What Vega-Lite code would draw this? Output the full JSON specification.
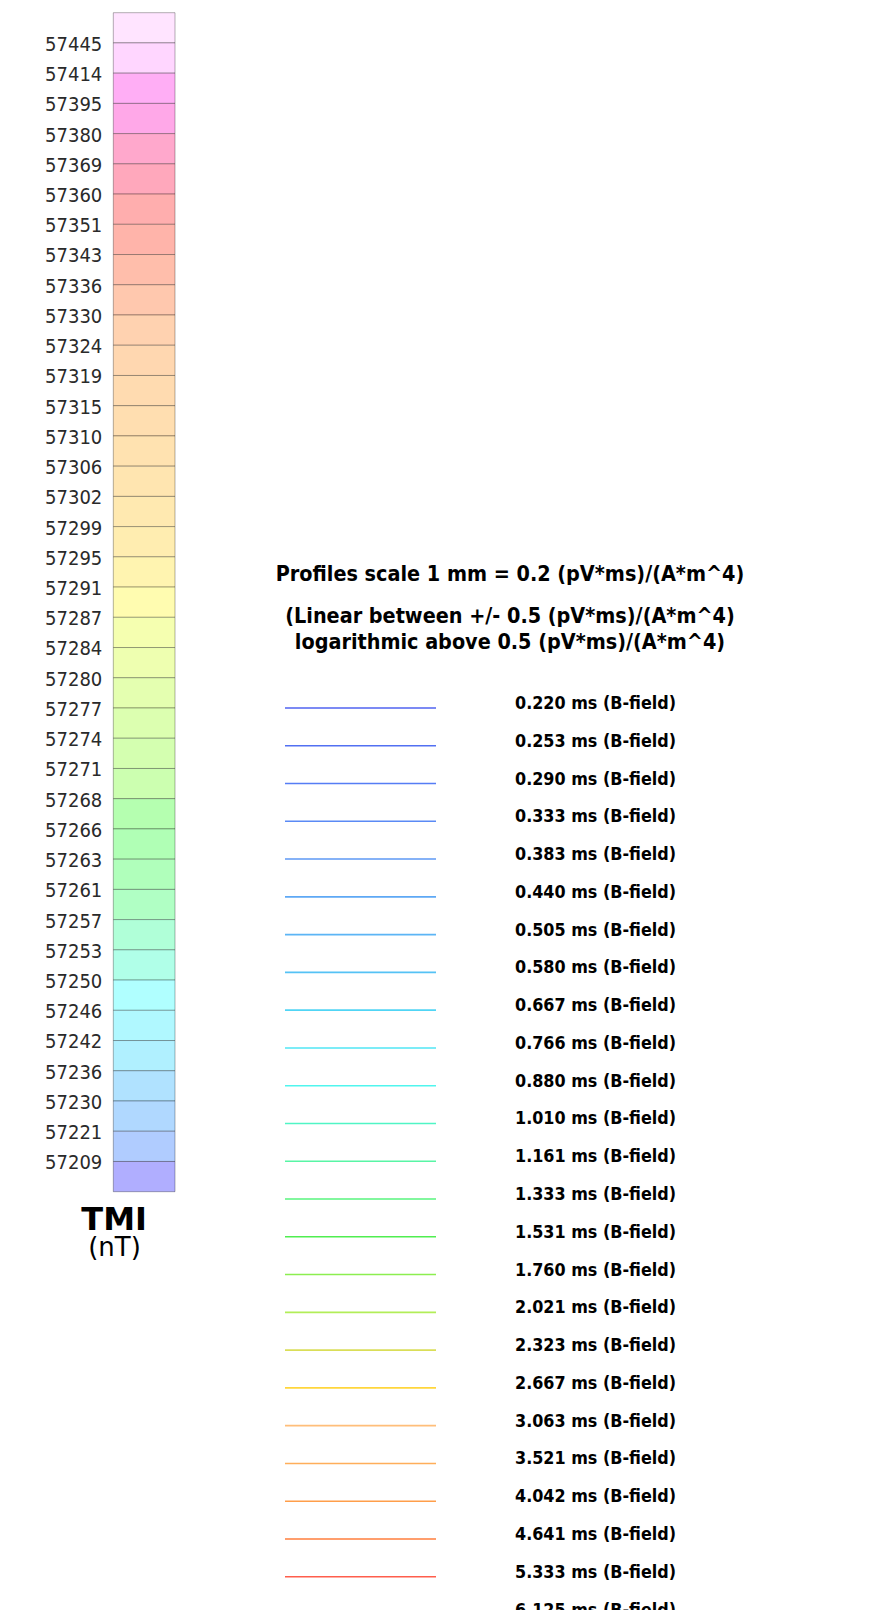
{
  "$schema": "https://vega.github.io/schema/vega-lite/v6.json",
  "width": 882,
  "height": 1610,
  "autosize": {"type": "none"},
  "padding": 0,
  "background": "white",
  "config": {"view": {"stroke": null}},
  "title": {
    "text": "Profiles scale 1 mm = 0.2 (pV*ms)/(A*m^4)",
    "subtitle": ["(Linear between +/- 0.5 (pV*ms)/(A*m^4)", "logarithmic above 0.5 (pV*ms)/(A*m^4)"],
    "anchor": "middle",
    "frame": "group",
    "dx": 69,
    "offset": -653,
    "font": "DejaVu Sans Condensed, DejaVu Sans",
    "fontSize": 21.4,
    "fontWeight": "bold",
    "color": "#000000",
    "subtitleFont": "DejaVu Sans Condensed, DejaVu Sans",
    "subtitleFontSize": 21.4,
    "subtitleFontWeight": "bold",
    "subtitleColor": "#000000",
    "subtitlePadding": 20,
    "subtitleLineHeight": 26
  },
  "layer": [
    {
      "data": {"values": [
        {"variable": "TMI", "lo": "57445"},
        {"variable": "TMI", "lo": "57414"},
        {"variable": "TMI", "lo": "57395"},
        {"variable": "TMI", "lo": "57380"},
        {"variable": "TMI", "lo": "57369"},
        {"variable": "TMI", "lo": "57360"},
        {"variable": "TMI", "lo": "57351"},
        {"variable": "TMI", "lo": "57343"},
        {"variable": "TMI", "lo": "57336"},
        {"variable": "TMI", "lo": "57330"},
        {"variable": "TMI", "lo": "57324"},
        {"variable": "TMI", "lo": "57319"},
        {"variable": "TMI", "lo": "57315"},
        {"variable": "TMI", "lo": "57310"},
        {"variable": "TMI", "lo": "57306"},
        {"variable": "TMI", "lo": "57302"},
        {"variable": "TMI", "lo": "57299"},
        {"variable": "TMI", "lo": "57295"},
        {"variable": "TMI", "lo": "57291"},
        {"variable": "TMI", "lo": "57287"},
        {"variable": "TMI", "lo": "57284"},
        {"variable": "TMI", "lo": "57280"},
        {"variable": "TMI", "lo": "57277"},
        {"variable": "TMI", "lo": "57274"},
        {"variable": "TMI", "lo": "57271"},
        {"variable": "TMI", "lo": "57268"},
        {"variable": "TMI", "lo": "57266"},
        {"variable": "TMI", "lo": "57263"},
        {"variable": "TMI", "lo": "57261"},
        {"variable": "TMI", "lo": "57257"},
        {"variable": "TMI", "lo": "57253"},
        {"variable": "TMI", "lo": "57250"},
        {"variable": "TMI", "lo": "57246"},
        {"variable": "TMI", "lo": "57242"},
        {"variable": "TMI", "lo": "57236"},
        {"variable": "TMI", "lo": "57230"},
        {"variable": "TMI", "lo": "57221"},
        {"variable": "TMI", "lo": "57209"},
        {"variable": "TMI", "lo": ""}
      ]},
      "mark": {"type": "rect", "stroke": "#000000", "strokeOpacity": 0.3, "strokeWidth": 1},
      "encoding": {
        "x": {
          "field": "variable", "type": "nominal",
          "scale": {"type": "band", "range": [113.3, 175], "paddingInner": 0, "paddingOuter": 0},
          "axis": {
            "orient": "bottom", "offset": -418.3, "ticks": false, "tickSize": 0, "domain": false, "grid": false,
            "labelAngle": 0, "labelOffset": -30, "labelPadding": 13,
            "labelFont": "DejaVu Sans", "labelFontSize": 32, "labelFontWeight": "bold", "labelColor": "#000000",
            "title": "(nT)", "titleX": 114, "titlePadding": -1,
            "titleFont": "DejaVu Sans", "titleFontSize": 26, "titleFontWeight": "normal", "titleColor": "#000000"
          }
        },
        "y": {
          "field": "lo", "type": "ordinal", "sort": "descending",
          "scale": {"type": "band", "range": [12.7, 1191.7], "paddingInner": 0, "paddingOuter": 0},
          "axis": {
            "orient": "left", "offset": -113.3, "ticks": false, "tickSize": 0, "domain": false, "grid": false,
            "labelOffset": 17, "labelPadding": 11.5, "labelOverlap": false,
            "labelFont": "DejaVu Sans Condensed, DejaVu Sans", "labelFontSize": 20, "labelColor": "#2a2a2a",
            "title": null
          }
        },
        "color": {
          "field": "lo", "type": "ordinal", "sort": "descending", "legend": null,
          "scale": {"range": [
            "#FFE4FF", "#FFD6FF", "#FFAEF5", "#FFA8E8", "#FFA8CC", "#FFA8BC", "#FFAEAE", "#FFB4AA",
            "#FFBEAB", "#FFC8AE", "#FFD2B0", "#FFD7B0", "#FFDBB0", "#FFDEB0", "#FFE2B0", "#FFE5B0",
            "#FFE9B0", "#FFEDB0", "#FFF4B0", "#FFFCB0", "#F5FFB0", "#EEFFB0", "#E4FFB0", "#DCFFB0",
            "#D4FFB0", "#CCFFB0", "#B5FFB0", "#B0FFB5", "#B0FFBB", "#B0FFC4", "#B0FFD8", "#B0FFE8",
            "#B0FFFF", "#B0F8FF", "#B0F0FF", "#B0E2FF", "#B0D8FF", "#B0CCFF", "#B0AEFF"
          ]}
        }
      }
    },
    {
      "data": {"values": [
        {"ms": 0.220, "label": "0.220 ms (B-field)"},
        {"ms": 0.253, "label": "0.253 ms (B-field)"},
        {"ms": 0.290, "label": "0.290 ms (B-field)"},
        {"ms": 0.333, "label": "0.333 ms (B-field)"},
        {"ms": 0.383, "label": "0.383 ms (B-field)"},
        {"ms": 0.440, "label": "0.440 ms (B-field)"},
        {"ms": 0.505, "label": "0.505 ms (B-field)"},
        {"ms": 0.580, "label": "0.580 ms (B-field)"},
        {"ms": 0.667, "label": "0.667 ms (B-field)"},
        {"ms": 0.766, "label": "0.766 ms (B-field)"},
        {"ms": 0.880, "label": "0.880 ms (B-field)"},
        {"ms": 1.010, "label": "1.010 ms (B-field)"},
        {"ms": 1.161, "label": "1.161 ms (B-field)"},
        {"ms": 1.333, "label": "1.333 ms (B-field)"},
        {"ms": 1.531, "label": "1.531 ms (B-field)"},
        {"ms": 1.760, "label": "1.760 ms (B-field)"},
        {"ms": 2.021, "label": "2.021 ms (B-field)"},
        {"ms": 2.323, "label": "2.323 ms (B-field)"},
        {"ms": 2.667, "label": "2.667 ms (B-field)"},
        {"ms": 3.063, "label": "3.063 ms (B-field)"},
        {"ms": 3.521, "label": "3.521 ms (B-field)"},
        {"ms": 4.042, "label": "4.042 ms (B-field)"},
        {"ms": 4.641, "label": "4.641 ms (B-field)"},
        {"ms": 5.333, "label": "5.333 ms (B-field)"},
        {"ms": 6.125, "label": "6.125 ms (B-field)"}
      ]},
      "encoding": {
        "y": {
          "field": "label", "type": "ordinal", "sort": {"field": "ms", "order": "ascending"},
          "scale": {"type": "band", "range": [689.1, 1633.4], "paddingInner": 0, "paddingOuter": 0},
          "axis": null
        }
      },
      "layer": [
        {
          "mark": {"type": "tick", "orient": "horizontal", "size": 151, "thickness": 1.6, "opacity": 1},
          "encoding": {
            "x": {"datum": "line", "type": "nominal",
                  "scale": {"type": "point", "domain": ["line", "label"], "range": [360.5, 515], "padding": 0},
                  "axis": null},
            "color": {
              "field": "label", "type": "ordinal", "sort": {"field": "ms", "order": "ascending"}, "legend": null,
              "scale": {"range": [
                "#5063F0", "#5270F2", "#567DF5", "#5A8AF5", "#5E99F5", "#5EA8F5", "#5CB5F5", "#55C2F5",
                "#50D5F5", "#50E6F5", "#50F5EE", "#50F5C5", "#58F5A5", "#58F57E", "#50EE50", "#8CEE50",
                "#B2EE58", "#DADE58", "#FFD63C", "#FFBE7A", "#FFAE5A", "#FF9E4A", "#FF7E3C", "#FF5E4C",
                "#FF4646"
              ]}
            }
          }
        },
        {
          "mark": {"type": "text", "align": "left", "baseline": "middle", "dy": -4,
                   "font": "DejaVu Sans Condensed, DejaVu Sans", "fontSize": 17.8, "fontWeight": "bold", "color": "#000000"},
          "encoding": {
            "x": {"datum": "label", "type": "nominal"},
            "text": {"field": "label"}
          }
        }
      ]
    }
  ],
  "resolve": {"scale": {"x": "independent", "y": "independent", "color": "independent"}}
}
